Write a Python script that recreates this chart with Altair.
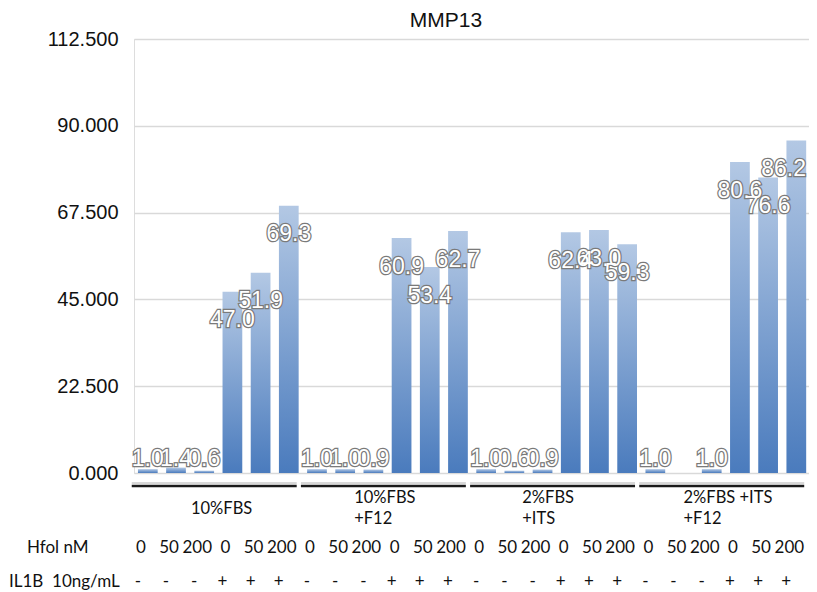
import altair as alt
import pandas as pd

# ---- data ----
hfol_nM = ["0", "50", "200", "0", "50", "200",
           "0", "50", "200", "0", "50", "200",
           "0", "50", "200", "0", "50", "200",
           "0", "50", "200", "0", "50", "200"]
il1b = ["-", "-", "-", "+", "+", "+",
        "-", "-", "-", "+", "+", "+",
        "-", "-", "-", "+", "+", "+",
        "-", "-", "-", "+", "+", "+"]
mmp13 = [1.0, 1.4, 0.6, 47.0, 51.9, 69.3,
         1.0, 1.0, 0.9, 60.9, 53.4, 62.7,
         1.0, 0.6, 0.9, 62.4, 63.0, 59.3,
         1.0, None, 1.0, 80.6, 76.6, 86.2]
group_line1 = ["10%FBS", "10%FBS", "2%FBS", "2%FBS +ITS"]
group_line2 = ["", "+F12", "+ITS", "+F12"]
y_ticks = [0, 22.5, 45, 67.5, 90, 112.5]
title_text = "MMP13"
row_headers = ["Hfol nM", "IL1B\u00a0 10ng/mL"]

bars_df = pd.DataFrame({"idx": list(range(len(mmp13))), "value": mmp13,
                        "hfol": hfol_nM, "il1b": il1b})
groups_df = pd.DataFrame({"g": list(range(len(group_line1))),
                          "l1": group_line1, "l2": group_line2})

xscale = alt.Scale(domain=[-0.49, 23.45], nice=False, zero=False)
yscale = alt.Scale(domain=[0, 112.5], nice=False)

gradient = alt.LinearGradient(
    gradient="linear",
    stops=[alt.GradientStop(color="#b3c8e4", offset=0),
           alt.GradientStop(color="#4a7bbd", offset=1)],
    x1=0, x2=0, y1=0, y2=1)

base = alt.Chart(bars_df)
valid = base.transform_filter("isValid(datum.value)")

bars = valid.transform_calculate(
    x1="datum.idx - 0.35", x2="datum.idx + 0.35"
).mark_bar(color=gradient).encode(
    x=alt.X("x1:Q", scale=xscale, axis=None),
    x2="x2:Q",
    y=alt.Y("value:Q", scale=yscale, title=None,
            axis=alt.Axis(values=y_ticks, format=".3f", labelFontSize=20,
                          labelFont="Liberation Sans", labelColor="#111",
                          ticks=False, domain=False, labelPadding=16,
                          gridColor="#d9d9d9", gridWidth=1.5)),
    y2=alt.datum(0),
)

lab = valid.transform_calculate(ly="max(datum.value - 7.4, 3.5)",
                                lx="min(datum.idx, 22.55)")
labels_shadow = lab.mark_text(font="Liberation Sans", fontSize=23, baseline="middle",
                              fill="#7a7a7a", stroke="#7a7a7a", strokeWidth=2.5).encode(
    x=alt.X("lx:Q", scale=xscale), y=alt.Y("ly:Q", scale=yscale),
    text=alt.Text("value:Q", format=".1f"))
labels_white = lab.mark_text(font="Liberation Sans", fontSize=23, baseline="middle",
                             fill="white").encode(
    x=alt.X("lx:Q", scale=xscale), y=alt.Y("ly:Q", scale=yscale),
    text=alt.Text("value:Q", format=".1f"))

gbase = alt.Chart(groups_df).transform_calculate(
    s="datum.g * 6 - 0.57", e="datum.g * 6 + 5.28",
    px="datum.g * 6 + [1.53, 1.32, 1.28, 1.0][datum.g]",
    ty1="datum.l2 == '' ? 470 : 459", ty2="480")
group_gray = gbase.mark_rule(color="#b0b0b0", strokeWidth=1).encode(
    x=alt.X("s:Q", scale=xscale), x2="e:Q", y=alt.value(444))
group_rule = gbase.mark_rule(color="#1a1a1a", strokeWidth=2.5).encode(
    x=alt.X("s:Q", scale=xscale), x2="e:Q", y=alt.value(447))
group_text1 = gbase.mark_text(font="Lato", fontSize=16.5, align="left", baseline="middle",
                              color="#111").encode(
    x=alt.X("px:Q", scale=xscale), y=alt.Y("ty1:Q", scale=None), text="l1:N")
group_text2 = gbase.mark_text(font="Lato", fontSize=16.5, align="left", baseline="middle",
                              color="#111").encode(
    x=alt.X("px:Q", scale=xscale), y=alt.Y("ty2:Q", scale=None), text="l2:N")

hfol_text = base.mark_text(font="Lato", fontSize=17, baseline="middle", dx=-7,
                           color="#111").encode(
    x=alt.X("idx:Q", scale=xscale), y=alt.value(509), text="hfol:N")
il1b_text = base.mark_text(font="Lato", fontSize=17, baseline="middle", dx=-10,
                           color="#111").encode(
    x=alt.X("idx:Q", scale=xscale), y=alt.value(543), text="il1b:N")

hdr1 = alt.Chart(pd.DataFrame({"t": [row_headers[0]]})).mark_text(
    font="Lato", fontSize=17, align="left", baseline="middle", color="#111").encode(
    x=alt.value(-107), y=alt.value(509), text="t:N")
hdr2 = alt.Chart(pd.DataFrame({"t": [row_headers[1]]})).mark_text(
    font="Lato", fontSize=17, align="left", baseline="middle", color="#111").encode(
    x=alt.value(-125), y=alt.value(543), text="t:N")
title = alt.Chart(pd.DataFrame({"t": [title_text]})).mark_text(
    font="Liberation Sans", fontSize=21, align="center", baseline="alphabetic",
    color="#111").encode(x=alt.value(312), y=alt.value(-12), text="t:N")

chart = alt.layer(
    bars, labels_shadow, labels_white, group_gray, group_rule, group_text1, group_text2,
    hfol_text, il1b_text, hdr1, hdr2, title
).properties(
    width=675, height=434,
    autosize=alt.AutoSizeParams(type="none"),
    padding={"left": 126, "top": 31, "right": 0, "bottom": 119},
).configure_view(stroke=None).configure(background="white")

chart.save("out.html", embed_options={"renderer": "svg", "actions": False})
